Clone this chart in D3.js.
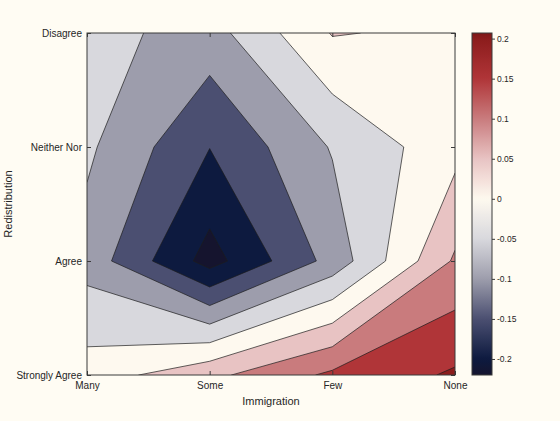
<!DOCTYPE html>
<html>
<head>
<meta charset="utf-8">
<script src="https://cdn.jsdelivr.net/npm/d3@7"></script>
<style>
  html, body { margin: 0; padding: 0; background: #fffcf3; }
  svg { display: block; font-family: "Liberation Sans", Arial, sans-serif; }
</style>
</head>
<body>
<svg id="chart" width="560" height="421"></svg>
<script>
// Categories on each axis
const immigration = ["Many", "Some", "Few", "None"];
const redistribution = ["Strongly Agree", "Agree", "Neither Nor", "Disagree"];

// Effect surface: one row per redistribution answer, values across immigration answers
const stronglyAgree = [0.023, 0.087, 0.160, 0.207];
const agree         = [-0.070, -0.220, -0.082, 0.107];
const neitherNor    = [-0.041, -0.149, -0.046, 0.033];
const disagree      = [-0.032, -0.071, 0.053, 0.040];

// Contour levels and colour bar ticks
const levels = [-0.2, -0.15, -0.1, -0.05, 0, 0.05, 0.1, 0.15, 0.2];
const colorbarTicks = [-0.2, -0.15, -0.1, -0.05, 0, 0.05, 0.1, 0.15, 0.2];

// Diverging blue-white-red colour map
const cmapStops  = [-0.22, -0.2, -0.15, -0.1, -0.05, 0, 0.05, 0.1, 0.15, 0.2, 0.208];
const cmapColors = ["#15142e", "#0d1a3f", "#4b4f71", "#9d9dac", "#d8d8dd", "#fef9ef",
                    "#e8c3c3", "#c97b7d", "#b03538", "#8c1c1c", "#7a1515"];

const W = 560, H = 421;
const plot = { left: 87, right: 455, top: 33, bottom: 375 };
const textColor = "#262626";

const svg = d3.select("#chart");

const x = d3.scalePoint().domain(immigration).range([plot.left, plot.right]);
const y = d3.scalePoint().domain(redistribution).range([plot.bottom, plot.top]);

// Grid rows listed top (Disagree) to bottom (Strongly Agree) for the contour generator
const rows = [disagree, neitherNor, agree, stronglyAgree];
const grid = rows.flat();
const nx = immigration.length, ny = rows.length;

// d3.contours places sample i at i + 0.5; map that onto the category scales
const gx = d3.scaleLinear().domain([0.5, nx - 0.5]).range([x(immigration[0]), x(immigration[nx - 1])]);
const gy = d3.scaleLinear().domain([0.5, ny - 0.5]).range([y("Disagree"), y("Strongly Agree")]);
const path = d3.geoPath(d3.geoTransform({
  point(px, py) { this.stream.point(gx(px), gy(py)); }
}));

const cmap = d3.scaleLinear().domain(cmapStops).range(cmapColors).clamp(true);
const extent = d3.extent(grid);

svg.append("defs").append("clipPath").attr("id", "plot-clip")
  .append("rect")
  .attr("x", plot.left).attr("y", plot.top)
  .attr("width", plot.right - plot.left).attr("height", plot.bottom - plot.top);

const area = svg.append("g").attr("clip-path", "url(#plot-clip)");

// lowest band
area.append("rect")
  .attr("x", plot.left).attr("y", plot.top)
  .attr("width", plot.right - plot.left).attr("height", plot.bottom - plot.top)
  .attr("fill", cmap(extent[0]));

const contourGen = d3.contours().size([nx, ny]);
levels.forEach(level => {
  const shape = contourGen.contour(grid, level);
  area.append("path")
    .attr("d", path(shape))
    .attr("fill", cmap(level))
    .attr("stroke", "#1c1c1c")
    .attr("stroke-width", 0.7)
    .attr("stroke-linejoin", "round");
});

// Frame
svg.append("rect")
  .attr("x", plot.left).attr("y", plot.top)
  .attr("width", plot.right - plot.left).attr("height", plot.bottom - plot.top)
  .attr("fill", "none").attr("stroke", "#3a3a3a").attr("stroke-width", 1);

function styleAxis(g) {
  g.select(".domain").remove();
  g.selectAll(".tick line").attr("stroke", "#3a3a3a");
  g.selectAll(".tick text").attr("fill", textColor).attr("font-size", 10)
    .attr("font-family", "Liberation Sans, Arial, sans-serif");
}

svg.append("g").attr("transform", `translate(0,${plot.bottom})`)
  .call(d3.axisBottom(x).tickSizeInner(-4).tickSizeOuter(0).tickPadding(7))
  .call(styleAxis);
svg.append("g").attr("transform", `translate(0,${plot.top})`)
  .call(d3.axisTop(x).tickSizeInner(-4).tickSizeOuter(0).tickFormat(""))
  .call(styleAxis);
svg.append("g").attr("transform", `translate(${plot.left},0)`)
  .call(d3.axisLeft(y).tickSizeInner(-4).tickSizeOuter(0).tickPadding(5))
  .call(styleAxis);
svg.append("g").attr("transform", `translate(${plot.right},0)`)
  .call(d3.axisRight(y).tickSizeInner(-4).tickSizeOuter(0).tickFormat(""))
  .call(styleAxis);

// Axis titles
svg.append("text")
  .attr("x", (plot.left + plot.right) / 2).attr("y", 405)
  .attr("text-anchor", "middle").attr("font-size", 11).attr("fill", textColor)
  .text("Immigration");
svg.append("text")
  .attr("transform", `translate(12,${(plot.top + plot.bottom) / 2}) rotate(-90)`)
  .attr("text-anchor", "middle").attr("font-size", 11).attr("fill", textColor)
  .text("Redistribution");

// Colour bar
const cb = { x: 472, width: 20 };
const cy = d3.scaleLinear().domain(extent).range([plot.bottom, plot.top]);

const grad = svg.select("defs").append("linearGradient")
  .attr("id", "cbar-grad").attr("x1", 0).attr("y1", 1).attr("x2", 0).attr("y2", 0);
d3.range(0, 1.0001, 0.01).forEach(t => {
  const v = extent[0] + t * (extent[1] - extent[0]);
  grad.append("stop").attr("offset", t).attr("stop-color", cmap(v));
});

svg.append("rect")
  .attr("x", cb.x).attr("y", plot.top)
  .attr("width", cb.width).attr("height", plot.bottom - plot.top)
  .attr("fill", "url(#cbar-grad)")
  .attr("stroke", "#3a3a3a").attr("stroke-width", 1);

const fmt = d => String(+d.toFixed(2));
svg.append("g").attr("transform", `translate(${cb.x + cb.width},0)`)
  .call(d3.axisRight(cy).tickValues(colorbarTicks).tickFormat(fmt)
        .tickSizeInner(3).tickSizeOuter(0).tickPadding(2))
  .call(g => {
    g.select(".domain").remove();
    g.selectAll(".tick line").attr("stroke", "#3a3a3a");
    g.selectAll(".tick text").attr("fill", textColor).attr("font-size", 8.5)
      .attr("font-family", "Liberation Sans, Arial, sans-serif");
  });
</script>
</body>
</html>
